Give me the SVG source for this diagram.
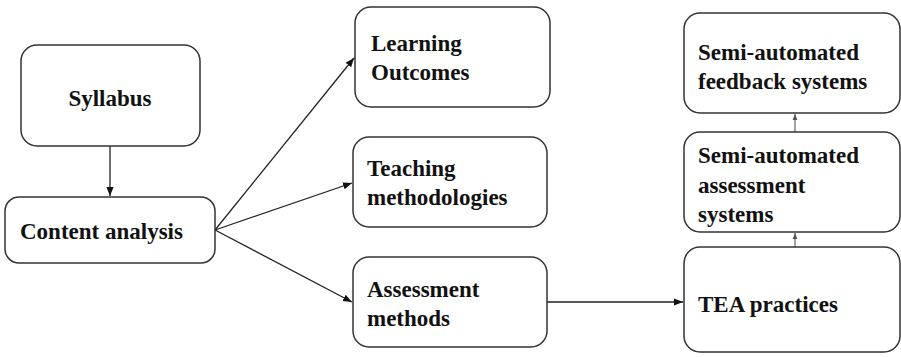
<svg xmlns="http://www.w3.org/2000/svg" width="901" height="357" viewBox="0 0 901 357">
<defs>
<style>
.box{fill:#fff;stroke:#333;stroke-width:1.5}
.t{font-family:'Liberation Serif','DejaVu Serif','Times New Roman',serif;font-weight:700;font-size:23px;fill:#111}
.c{stroke:#222;stroke-width:1.3;fill:none}
.g{stroke:#666;stroke-width:1.2;fill:none}
</style>
<marker id="ah" viewBox="0 0 10 10" refX="10" refY="5" markerWidth="9" markerHeight="9" markerUnits="userSpaceOnUse" orient="auto"><path d="M0,1 L10,5 L0,9 Z" fill="#111"/></marker>
<marker id="ahs" viewBox="0 0 10 10" refX="10" refY="5" markerWidth="6" markerHeight="6" markerUnits="userSpaceOnUse" orient="auto"><path d="M0,1 L10,5 L0,9 Z" fill="#555"/></marker>
</defs>
<g id="connectors">
<line class="c" x1="110" y1="146" x2="110" y2="196" marker-end="url(#ah)"/>
<line class="c" x1="215" y1="230" x2="354" y2="58" marker-end="url(#ah)"/>
<line class="c" x1="215" y1="230" x2="352" y2="183" marker-end="url(#ah)"/>
<line class="c" x1="215" y1="230" x2="352" y2="302" marker-end="url(#ah)"/>
<line class="c" x1="547" y1="302" x2="683" y2="302" marker-end="url(#ah)"/>
<line class="g" x1="795" y1="132" x2="795" y2="114" marker-end="url(#ahs)"/>
<line class="g" x1="795" y1="247" x2="795" y2="233" marker-end="url(#ahs)"/>
</g>
<g id="syllabus"><rect class="box" x="21" y="45" width="179" height="101" rx="16"/><text class="t" x="110" y="106" text-anchor="middle">Syllabus</text></g>
<g id="content-analysis"><rect class="box" x="5" y="197" width="210" height="66" rx="14"/><text class="t" x="20" y="239">Content analysis</text></g>
<g id="learning-outcomes"><rect class="box" x="355" y="7" width="195" height="100" rx="16"/><text class="t" x="371" y="51">Learning</text><text class="t" x="371" y="80">Outcomes</text></g>
<g id="teaching"><rect class="box" x="353" y="137" width="194" height="90" rx="16"/><text class="t" x="367" y="176">Teaching</text><text class="t" x="367" y="205">methodologies</text></g>
<g id="assessment-methods"><rect class="box" x="353" y="257" width="194" height="90" rx="16"/><text class="t" x="367" y="297">Assessment</text><text class="t" x="367" y="326">methods</text></g>
<g id="feedback"><rect class="box" x="684" y="13" width="216" height="100" rx="16"/><text class="t" x="698" y="60">Semi-automated</text><text class="t" x="698" y="89">feedback systems</text></g>
<g id="assessment-systems"><rect class="box" x="684" y="132" width="216" height="100" rx="16"/><text class="t" x="698" y="163">Semi-automated</text><text class="t" x="698" y="193">assessment</text><text class="t" x="698" y="222">systems</text></g>
<g id="tea"><rect class="box" x="684" y="247" width="216" height="105" rx="16"/><text class="t" x="698" y="312">TEA practices</text></g>
</svg>
